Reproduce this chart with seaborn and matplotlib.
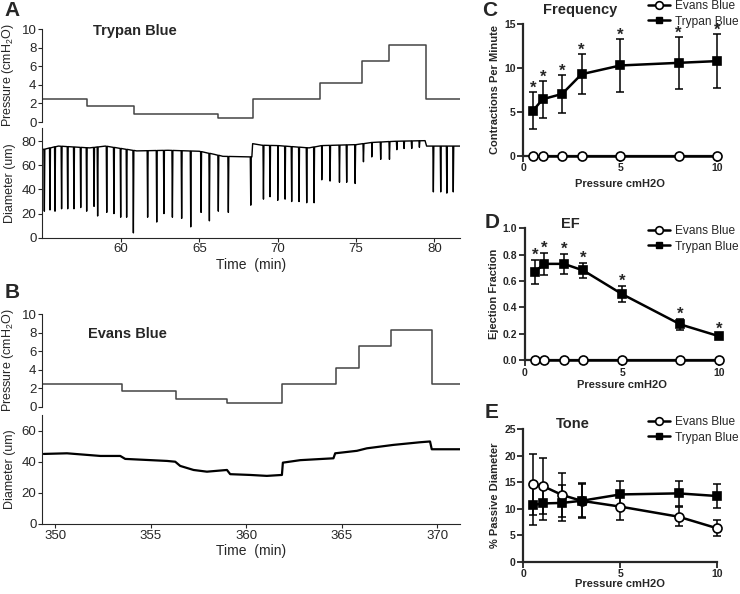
import numpy as np
import pandas as pd
import matplotlib.pyplot as plt
import seaborn as sns
from matplotlib.lines import Line2D

sns.set_theme(style="ticks")
plt.rcParams['font.family'] = ['Liberation Sans', 'DejaVu Sans']
plt.rcParams['mathtext.default'] = 'regular'

# ---- A: Trypan Blue traces ----
a_step_t = [54.96, 57.8, 60.8, 66.2, 68.4, 72.7, 75.4, 77.1, 79.45, 81.63]
a_step_p = [2.5, 1.7, 0.85, 0.45, 2.5, 4.2, 6.6, 8.3, 2.5, 2.5]

a_base_t = [54.96, 56.0, 58.0, 59.0, 60.0, 61.0, 63.0, 65.0, 66.0, 66.5, 68.35, 68.4,
            69.0, 70.0, 72.0, 72.8, 75.0, 76.0, 77.5, 79.4, 79.5, 81.63]
a_base_d = [73, 76, 74.5, 76, 74, 72, 72.5, 71.7, 69, 67.5, 67, 78,
            76.7, 76.4, 74.5, 76.4, 77.2, 79, 80, 80.5, 76, 76]

a_spike_t = [55.11, 55.47, 55.79, 56.21, 56.60, 57.00, 57.43, 57.81, 58.28, 58.51,
             59.09, 59.55, 59.98, 60.36, 60.79, 61.70, 62.28, 62.74, 63.28, 63.87,
             64.45, 65.11, 65.64, 66.21, 66.85, 68.28, 69.09, 69.51, 70.00, 70.47,
             70.89, 71.36, 71.85, 72.32, 72.81, 73.34, 73.94, 74.40, 74.94, 75.47,
             76.00, 76.57, 77.13, 77.60, 78.06, 78.55, 79.04, 79.93, 80.40, 80.79, 81.20]
a_spike_d = [22, 23, 22, 24, 24, 24, 25, 22, 26, 18,
             21, 20, 17, 17, 4, 17, 13, 20, 17, 16,
             9, 21, 14, 22, 21, 27, 32, 34, 31, 32,
             30, 30, 29, 29, 48, 47, 46, 46, 45, 63,
             67, 65, 65, 73, 74, 74, 75, 38, 38, 37, 38]

# ---- B: Evans Blue traces ----
b_step_t = [349.3, 353.5, 356.3, 359.0, 361.9, 364.7, 365.9, 367.6, 369.72, 371.2]
b_step_p = [2.5, 1.7, 0.85, 0.45, 2.5, 4.2, 6.6, 8.3, 2.5, 2.5]

b_base_t = [349.39, 350.61, 352.36, 353.40, 353.66, 355.85, 356.28, 356.54, 357.24,
            357.94, 358.99, 359.16, 360.21, 361.08, 361.87, 361.92, 362.83, 364.57,
            364.66, 365.80, 366.32, 367.71, 369.11, 369.63, 369.72, 371.2]
b_base_d = [45, 45.4, 43.7, 43.7, 41.8, 40.5, 40, 37.3, 34.7,
            33.6, 34.7, 32, 31.5, 30.9, 31.5, 39.4, 41, 42.2,
            45.4, 47, 48.6, 50.8, 52.5, 53, 48, 48]

# ---- C/D/E summary data ----
pressure = [0.5, 1, 2, 3, 5, 8, 10]
freq_trypan = [5.15, 6.45, 7.05, 9.3, 10.3, 10.6, 10.8]
freq_trypan_err = [2.15, 2.1, 2.2, 2.3, 3.0, 3.0, 3.05]
freq_evans = [0, 0, 0, 0, 0, 0, 0]

ef_trypan = [0.67, 0.73, 0.73, 0.68, 0.50, 0.27, 0.18]
ef_trypan_err = [0.09, 0.085, 0.075, 0.06, 0.06, 0.04, 0.02]
ef_evans = [0, 0, 0, 0, 0, 0, 0]

tone_evans = [14.6, 14.3, 12.6, 11.5, 10.4, 8.5, 6.3]
tone_evans_err = [5.7, 5.3, 4.1, 3.1, 2.6, 1.8, 1.5]
tone_trypan = [10.7, 11.0, 11.1, 11.5, 12.7, 12.9, 12.4]
tone_trypan_err = [3.7, 3.2, 3.4, 3.3, 2.6, 2.4, 2.3]

W, H = 740, 594
fig = plt.figure(figsize=(W / 100, H / 100), dpi=100)


def px_axes(x0, y0, x1, y1):
    return fig.add_axes([x0 / W, 1 - y1 / H, (x1 - x0) / W, (y1 - y0) / H])


def diameter_line(base_t, base_d, spike_t, spike_d, half=0.03):
    t = list(base_t)
    d = list(base_d)
    for st, sd in zip(spike_t, spike_d):
        b = np.interp(st, base_t, base_d)
        t += [st - half, st, st + half]
        d += [b, sd, b]
    df = pd.DataFrame({'t': t, 'd': d}).sort_values('t', kind='stable')
    return df


def trace_style(ax, ylim, yticks, ylabel, bottom=False):
    ax.set_ylim(*ylim)
    ax.set_yticks(yticks)
    ax.set_ylabel(ylabel, fontsize=9)
    for s in ['top', 'right']:
        ax.spines[s].set_visible(False)
    ax.spines['left'].set_bounds(0, ylim[1])
    ax.tick_params(labelsize=9.5, length=3, width=0.8, pad=1)
    for s in ['left', 'bottom']:
        ax.spines[s].set_linewidth(0.8)
    if not bottom:
        ax.spines['bottom'].set_visible(False)
        ax.set_xticks([])
    ax.yaxis.set_label_coords(-0.062, 0.5)


def trace_panel(top, bot, step_t, step_p, base_t, base_d, spike_t, spike_d,
                xlim, xticks, dmax, dticks, name, name_xy, dlw):
    axp = px_axes(42, top[0], 460, top[1])
    sns.lineplot(x=step_t, y=step_p, drawstyle='steps-post', color='#444444',
                 lw=1.1, ax=axp, estimator=None, sort=False)
    axp.set_xlim(*xlim)
    trace_style(axp, (0, 10), [0, 2, 4, 6, 8, 10], 'Pressure (cmH$_2$O)')
    axp.text(name_xy[0], name_xy[1], name, transform=axp.transAxes, fontsize=10.5,
             fontweight='bold', va='center')

    axd = px_axes(42, bot[0], 460, bot[1])
    df = diameter_line(base_t, base_d, spike_t, spike_d)
    sns.lineplot(data=df, x='t', y='d', color='black', lw=dlw, ax=axd,
                 estimator=None, sort=False)
    axd.set_xlim(*xlim)
    axd.set_xticks(xticks)
    trace_style(axd, (0, dmax), dticks, 'Diameter (um)', bottom=True)
    axd.set_xlabel('Time  (min)', fontsize=10, labelpad=2)
    return axp, axd


trace_panel((29, 122), (128, 237.7), a_step_t, a_step_p, a_base_t, a_base_d,
            a_spike_t, a_spike_d, (54.96, 81.63), [60, 65, 70, 75, 80],
            91, [0, 20, 40, 60, 80], 'Trypan Blue', (0.122, 0.975), 1.0)
trace_panel((314.3, 406.7), (415, 524), b_step_t, b_step_p, b_base_t, b_base_d,
            [], [], (349.3, 371.2), [350, 355, 360, 365, 370],
            70, [0, 20, 40, 60], 'Evans Blue', (0.11, 0.79), 1.6)


def summary_panel(box, ylim, yticks, yfmt, ylabel, title, title_xy, series, stars, star_gap,
                  legend_y, xlabelpad):
    ax = px_axes(*box)
    for vals, err, filled in series:
        if err is not None:
            ax.errorbar(pressure, vals, yerr=err, fmt='none', ecolor='black',
                        elinewidth=1.1, capsize=3, capthick=1.1, clip_on=False, zorder=3)
        sns.lineplot(x=pressure, y=vals, color='black', lw=1.8, ax=ax,
                     marker='s' if filled else 'o', markersize=6 if filled else 6.5,
                     markerfacecolor='black' if filled else 'white',
                     markeredgecolor='black', markeredgewidth=1.2,
                     clip_on=False, zorder=4, estimator=None)
    if stars is not None:
        vals, err = stars
        for x, v, e in zip(pressure, vals, err):
            ax.text(x, v + e + star_gap, '*', ha='center', va='baseline',
                    fontsize=12, fontweight='bold', clip_on=False)
    ax.set_xlim(0, 10)
    ax.set_ylim(*ylim)
    ax.set_xticks([0, 5, 10])
    ax.set_yticks(yticks)
    ax.set_yticklabels([yfmt.format(v) for v in yticks])
    for s in ['top', 'right']:
        ax.spines[s].set_visible(False)
    for s in ['left', 'bottom']:
        ax.spines[s].set_linewidth(1.6)
    ax.tick_params(labelsize=7.5, length=4, width=1.3, pad=1.5)
    for lab in ax.get_xticklabels() + ax.get_yticklabels():
        lab.set_fontweight('bold')
    ax.set_ylabel(ylabel, fontsize=8, fontweight='bold', labelpad=3)
    ax.set_xlabel('Pressure cmH2O', fontsize=8, fontweight='bold', labelpad=xlabelpad)
    fig.text(title_xy[0] / W, 1 - title_xy[1] / H, title, fontsize=10.5,
             fontweight='bold', ha='center', va='center')
    handles = [Line2D([], [], color='black', lw=1.8, marker='o', markerfacecolor='white',
                      markeredgecolor='black', markersize=5.5, markeredgewidth=1.2),
               Line2D([], [], color='black', lw=1.8, marker='s', markerfacecolor='black',
                      markersize=5)]
    fig.legend(handles, ['Evans Blue', 'Trypan Blue'], loc='upper left',
               bbox_to_anchor=(648 / W, 1 - legend_y / H), frameon=False,
               fontsize=8.6, handlelength=1.8, handletextpad=0.5, labelspacing=0.3,
               borderpad=0, borderaxespad=0)
    return ax


summary_panel((523.3, 24.3, 717.3, 155.7), (0, 15), [0, 5, 10, 15], '{:.0f}',
              'Contractions Per Minute', 'Frequency', (580, 10),
              [(freq_evans, None, False), (freq_trypan, freq_trypan_err, True)],
              (freq_trypan, freq_trypan_err), -0.1, 0, 4)
summary_panel((525, 228.3, 719.3, 360), (0, 1.0), [0, 0.2, 0.4, 0.6, 0.8, 1.0], '{:.1f}',
              'Ejection Fraction', 'EF', (570, 224),
              [(ef_evans, None, False), (ef_trypan, ef_trypan_err, True)],
              (ef_trypan, ef_trypan_err), 0.0, 225, 2)
summary_panel((523.3, 429.3, 717.3, 561.7), (0, 25), [0, 5, 10, 15, 20, 25], '{:.0f}',
              '% Passive Diameter', 'Tone', (573, 424),
              [(tone_evans, tone_evans_err, False), (tone_trypan, tone_trypan_err, True)],
              None, 0, 416, 0)

for lab, x, y in [('A', 12, 10), ('B', 12, 292), ('C', 490, 10), ('D', 492, 222),
                  ('E', 492, 413)]:
    fig.text(x / W, 1 - y / H, lab, fontsize=15, fontweight='bold',
             ha='center', va='center')

fig.savefig('out.png', dpi=100)
